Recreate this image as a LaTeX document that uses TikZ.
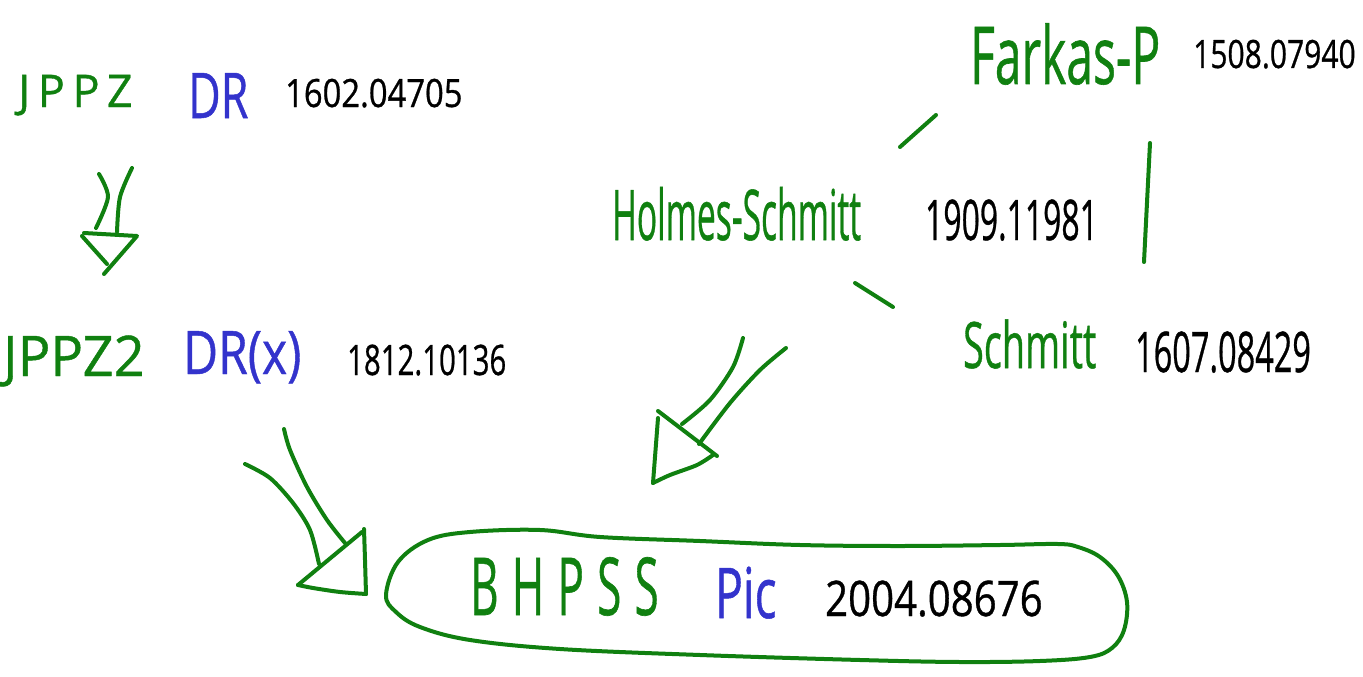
\documentclass[tikz,border=0pt]{standalone}
\usepackage{fontspec}
\setmainfont{Open Sans}[FakeBold=0.8]
\definecolor{inkgreen}{RGB}{16,128,16}
\definecolor{inkblue}{RGB}{51,51,204}
\newcommand{\fsz}[1]{\fontsize{#1}{#1}\selectfont}

\begin{document}
\begin{tikzpicture}[x=1pt,y=-1pt,
  word/.style={inner sep=0pt, anchor=base west},
  gword/.style={word, text=inkgreen},
  bword/.style={word, text=inkblue},
  kword/.style={word, text=black},
  stroke/.style={draw=inkgreen, line width=4pt, line cap=round, line join=round}
]
\useasboundingbox (0,0) rectangle (1363,677);

% ---- left column --------------------------------------------------
\node[gword, font=\fsz{45}\addfontfeature{LetterSpace=17}] (jppz) at (18,107) {JPPZ};
\node[bword, font=\fsz{63}, xscale=0.71] (dr) at (188,118) {DR};
\node[kword, font=\fsz{39}, xscale=0.84] (n1602) at (285,107) {1602.04705};

\node[gword, font=\fsz{56}, xscale=0.97] (jppz2) at (3,376) {JPPZ2};
\node[bword, font=\fsz{60}, xscale=0.8] (drx) at (183,374) {DR(x)};
\node[kword, font=\fsz{42}, xscale=0.7] (n1812) at (347,375) {1812.10136};

% ---- right cluster ------------------------------------------------
\node[gword, font=\fsz{70}, xscale=0.48] (hs) at (612,240) {Holmes-Schmitt};
\node[kword, font=\fsz{56}, xscale=0.57] (n1909) at (925,240) {1909.11981};
\node[gword, font=\fsz{80}, xscale=0.6] (fp) at (970,84) {Farkas-P};
\node[kword, font=\fsz{39}, xscale=0.77] (n1508) at (1193,68) {1508.07940};
\node[gword, font=\fsz{64}, xscale=0.59] (sch) at (963,368) {Schmitt};
\node[kword, font=\fsz{56}, xscale=0.58] (n1607) at (1135,372) {1607.08429};

% ---- result -------------------------------------------------------
\node[gword, font=\fsz{80}\addfontfeature{LetterSpace=30}, xscale=0.55] (bhpss) at (470,615) {BHPSS};
\node[bword, font=\fsz{70}, xscale=0.66] (pic) at (715,618) {Pic};
\node[kword, font=\fsz{49}, xscale=0.82] (n2004) at (825,616) {2004.08676};

% loop drawn round the result
\draw[stroke] plot[smooth cycle, tension=0.6] coordinates {
  (386,595) (398,562) (428,540) (470,532) (540,530) (600,537) (700,541)
  (800,545) (900,546) (1000,545) (1058,544) (1078,547) (1100,557)
  (1118,576) (1127,602) (1124,630) (1112,648) (1090,657) (1040,661)
  (960,662) (860,660) (700,655) (560,649) (470,640) (420,627) (396,612)};

% ---- links between the right-hand papers ------------------------
\coordinate (hsfpA) at (900,147);  \coordinate (hsfpB) at (936,115);
\coordinate (fpschA) at (1150,143); \coordinate (fpschB) at (1144,262);
\coordinate (hsschA) at (855,283); \coordinate (hsschB) at (893,307);
\draw[stroke] (hsfpA) -- (hsfpB);
\draw[stroke] (fpschA) -- (fpschB);
\draw[stroke] (hsschA) -- (hsschB);

% ---- arrow JPPZ -> JPPZ2 ------------------------------------------
\draw[stroke] plot[smooth] coordinates {(99,174) (108,197) (96,228)};
\draw[stroke] plot[smooth] coordinates {(132,168) (120,197) (117,232)};
\draw[stroke] (84,233) -- (137,236) -- (104,274);
\draw[stroke] (82,236) -- (107,264);

% ---- arrow JPPZ2 -> BHPSS -----------------------------------------
\draw[stroke] plot[smooth] coordinates {(284,429) (290,450) (307,487) (327,520) (345,543)};
\draw[stroke] plot[smooth] coordinates {(245,464) (270,478) (293,503) (310,530) (319,564)};
\draw[stroke] (298,585) -- (362,532);
\draw[stroke] plot[smooth] coordinates {(364,529) (365,560) (366,594)};
\draw[stroke] plot[smooth] coordinates {(366,594) (340,592) (313,588) (298,585)};

% ---- arrow Holmes-Schmitt -> BHPSS --------------------------------
\draw[stroke] plot[smooth] coordinates {(743,338) (733,367) (710,400) (682,424)};
\draw[stroke] plot[smooth] coordinates {(786,348) (760,370) (730,403) (699,444)};
\draw[stroke] (658,411) -- (717,456);
\draw[stroke] (658,418) -- (653,483);
\draw[stroke] plot[smooth] coordinates {(653,483) (670,475) (697,465) (713,455)};
\end{tikzpicture}
\end{document}
